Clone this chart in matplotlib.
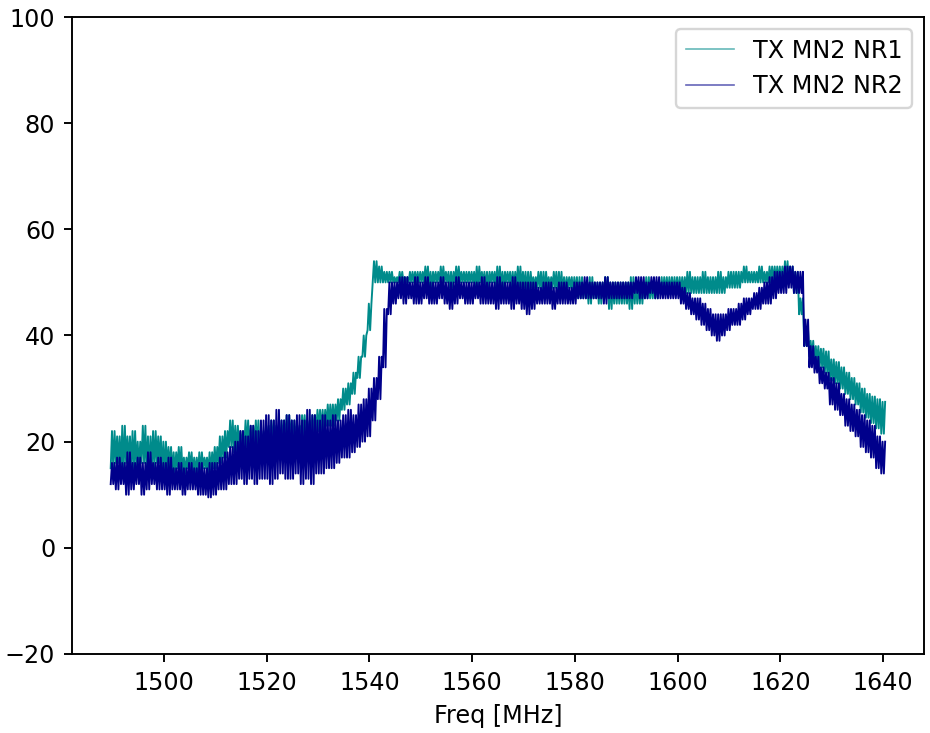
import numpy as np
import matplotlib
matplotlib.use('Agg')
from matplotlib import pyplot as plt
from matplotlib.lines import Line2D

#------------------------------------------------------------------------------
#Datos (envolvente min/max de cada MHz).
freq = np.arange(1490, 1641)

nr1_hi = [22, 21, 23, 21, 22, 20, 23, 21, 22, 21,
          20, 19, 18, 19, 17, 18, 17, 18, 17, 18,
          19, 21, 22, 24, 23, 22, 24, 23, 24, 22,
          23, 24, 23, 24, 25, 24, 23, 25, 24, 25,
          26, 26, 27, 27, 28, 30, 31, 33, 36, 40,
          46, 54, 53, 52, 52, 51, 52, 51, 52, 52,
          52, 53, 52, 52, 53, 52, 52, 53, 52, 52,
          52, 53, 52, 52, 52, 53, 52, 52, 52, 53,
          52, 52, 51, 52, 52, 51, 52, 52, 51, 51,
          51, 51, 50, 51, 50, 50, 51, 50, 50, 50,
          50, 51, 50, 50, 51, 50, 50, 51, 51, 51,
          51, 51, 52, 51, 51, 52, 51, 51, 52, 51,
          52, 52, 52, 53, 52, 52, 53, 52, 53, 53,
          53, 54, 53, 52, 47, 41, 39, 38, 37.5, 37,
          35.5, 35, 34, 33, 32, 31, 30, 29, 28.5, 28, 27.5]
nr1_lo = [15, 16, 14, 16, 15, 15, 16, 14, 15, 16,
          14, 15, 14, 15, 14, 15, 14, 14, 15, 14,
          15, 16, 17, 19, 18, 19, 19, 18, 19, 19,
          19, 19, 20, 20, 20, 20, 21, 21, 21, 21,
          22, 22, 23, 23, 24, 26, 27, 29, 32, 36,
          41, 50, 50, 50, 50, 50, 50, 50, 50, 50,
          50, 50, 49, 50, 50, 50, 49, 50, 50, 50,
          50, 49, 50, 49, 50, 49, 49, 50, 49, 49,
          49, 48, 49, 49, 48, 49, 49, 48, 48, 49,
          48, 47, 47, 46, 47, 46, 47, 45, 46, 46,
          46, 45, 46, 46, 47, 47, 47, 48, 48, 48,
          48, 48, 48, 48, 48, 48, 48, 48, 48, 48,
          49, 49, 49, 50, 50, 50, 50, 50, 50, 50,
          50, 50, 50, 48, 44, 38, 36, 35, 34, 33,
          31.5, 31, 30, 29, 28, 27, 25.5, 24.5, 23.5, 22.5, 21.5]

nr2_hi = [16, 17, 16, 18, 16, 17, 16, 18, 16, 17,
          16, 17, 15, 16, 15, 16, 15, 16, 15, 16,
          16, 17, 18, 19, 20, 22, 21, 23, 22, 24,
          25, 24, 26, 24, 25, 24, 25, 24, 26, 25,
          24, 25, 24, 25, 24, 25, 26, 25, 27, 28,
          30, 32, 36, 45, 50, 50, 51, 51, 50, 51,
          50, 51, 50, 50, 51, 50, 50, 51, 50, 50,
          50, 50, 51, 50, 50, 51, 50, 50, 51, 50,
          50, 50, 50, 49, 50, 50, 49, 50, 50, 49,
          50, 50, 51, 50, 50, 50, 51, 50, 50, 50,
          50, 50, 51, 51, 50, 51, 51, 50, 50, 50,
          50, 49, 48, 47, 47, 46, 45, 44, 44, 44,
          45, 45, 46, 47, 47, 48, 49, 50, 51, 52,
          52, 53, 53, 52, 52, 43, 38, 36, 34, 33,
          32, 31, 29, 28, 27, 26, 25, 24, 23, 21, 20]
nr2_lo = [12, 11, 12, 10, 11, 12, 10, 11, 12, 11,
          11, 10, 11, 11, 10, 11, 11, 10, 10, 9.5,
          10, 11, 11, 12, 12, 13, 12, 13, 12, 13,
          13, 12, 13, 14, 13, 13, 14, 12, 13, 12,
          14, 14, 15, 15, 16, 17, 17, 18, 19, 20,
          21, 24, 28, 34, 44, 46, 47, 46, 47, 46,
          46, 47, 46, 46, 47, 46, 45, 46, 47, 46,
          46, 47, 46, 46, 46, 45, 46, 46, 45, 46,
          45, 44, 45, 46, 46, 46, 45, 46, 46, 46,
          46, 47, 47, 47, 47, 47, 46, 47, 47, 47,
          47, 47, 48, 47, 47, 48, 47, 47, 47, 47,
          47, 46, 45, 44, 43, 42, 41, 40, 39, 40,
          41, 42, 42, 43, 44, 45, 45, 46, 46, 47,
          48, 48, 49, 48, 48, 38, 34, 33, 31, 30,
          27, 26, 25, 23, 22, 21, 19, 18, 17, 15, 14]

labels = ['TX MN2 NR1', 'TX MN2 NR2']
colors = ['darkcyan', 'darkblue']

#------------------------------------------------------------------------------
#Trazo: alternamos min y max dentro de cada MHz para reproducir el ruido.
def traza(lo, hi):
    x = np.column_stack([freq - 0.375, freq - 0.125, freq + 0.125, freq + 0.375]).ravel()
    y = np.column_stack([lo, hi, lo, hi]).ravel()
    return x, y

fig = plt.figure(figsize=(930/172, 733/172), dpi=172)
ax = fig.add_axes([0.0774, 0.1078, 0.916, 0.869])

x1, y1 = traza(nr1_lo, nr1_hi)
x2, y2 = traza(nr2_lo, nr2_hi)
ax.plot(x1, y1, color=colors[0], lw=0.8)
ax.plot(x2, y2, color=colors[1], lw=0.8)

ax.set_ylim(-20, 100)
ax.set_xticks(np.arange(1500, 1641, 20))
ax.set_xlabel('Freq [MHz]')

#Leyenda con lineas finas.
handles = [Line2D([], [], color=c, lw=0.7, alpha=0.6) for c in colors]
ax.legend(handles, labels, loc='upper right')

fig.savefig('out.png', dpi=172)
